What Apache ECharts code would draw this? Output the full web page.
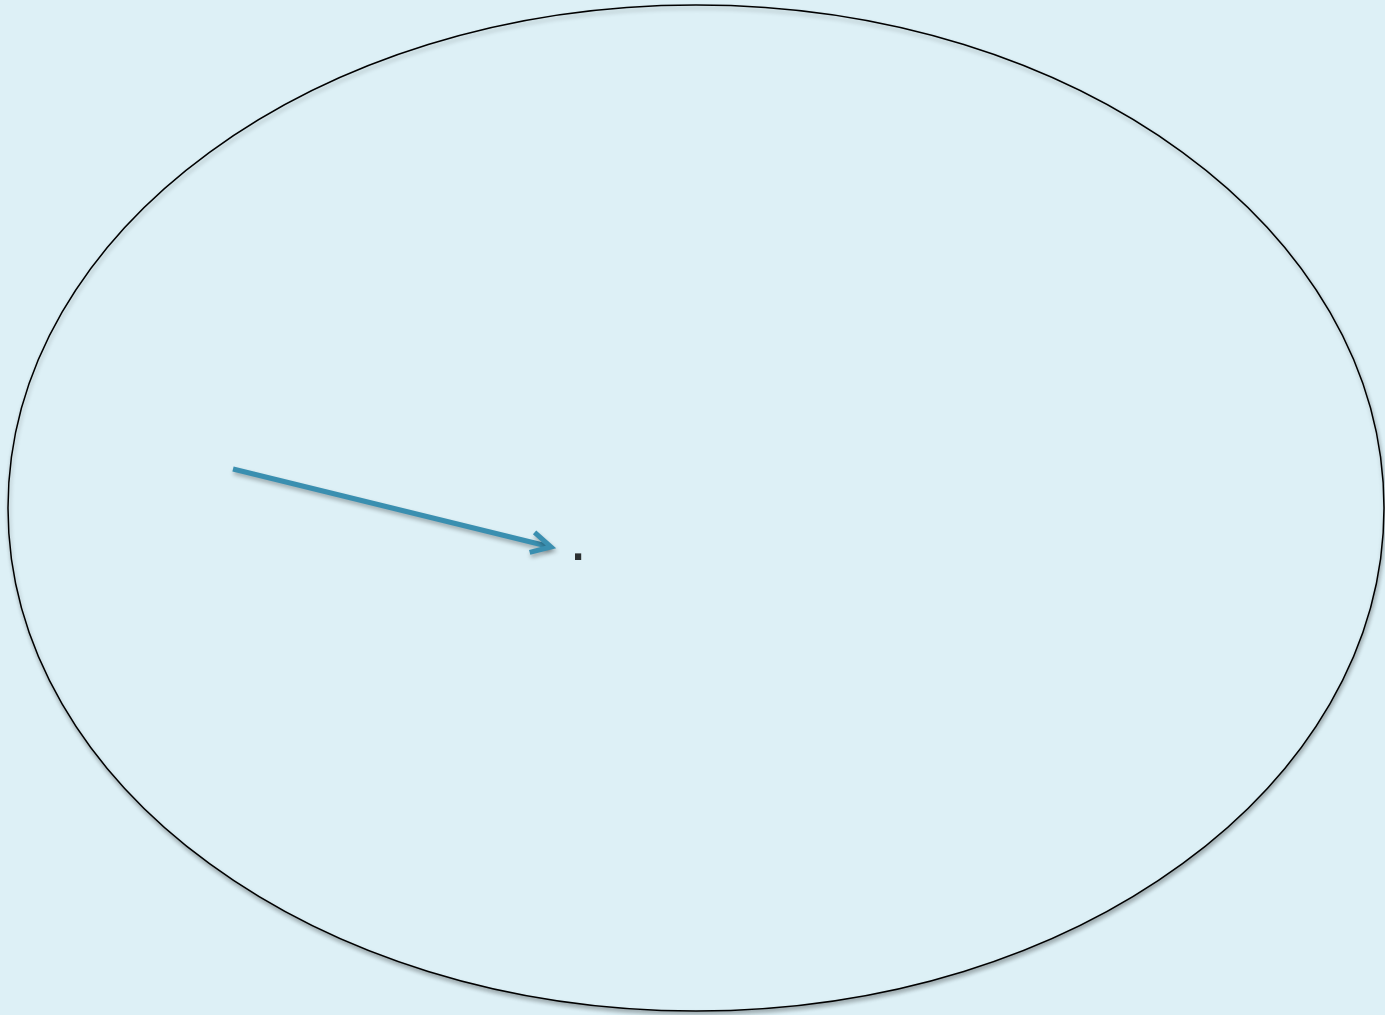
<!DOCTYPE html>
<html>
<head>
<meta charset="utf-8">
<script src="https://cdn.jsdelivr.net/npm/echarts@6/dist/echarts.min.js"></script>
<style>
html,body{margin:0;padding:0;background:#ddf0f6;}
#chart{width:1385px;height:1015px;}
</style>
</head>
<body>
<div id="chart"></div>
<script>
// Ellipse outline: centre and radii (in plot units)
var ellipseCenter = [696, 508];
var ellipseRadius = [688, 503];
// Arrow: start point and tip
var arrowStart = [233, 469];
var arrowEnd = [551, 547];
// Text mark
var labelPoint = [578, 552];
var labelText = '.';

var chart = echarts.init(document.getElementById('chart'), null, {renderer: 'canvas'});

var option = {
  backgroundColor: '#ddf0f6',
  animation: false,
  grid: {left: 0, right: 0, top: 0, bottom: 0},
  xAxis: {type: 'value', min: 0, max: 1385, show: false},
  yAxis: {type: 'value', min: 0, max: 1015, inverse: true, show: false},
  series: [
    {
      type: 'custom',
      silent: true,
      data: [[ellipseCenter[0], ellipseCenter[1], ellipseRadius[0], ellipseRadius[1]]],
      renderItem: function (params, api) {
        var c = api.coord([api.value(0), api.value(1)]);
        var o = api.coord([0, 0]);
        var r = api.coord([api.value(2), api.value(3)]);
        var rx = Math.abs(r[0] - o[0]), ry = Math.abs(r[1] - o[1]);
        return {
          type: 'ellipse',
          shape: {cx: c[0], cy: c[1], rx: rx, ry: ry},
          style: {
            fill: '#ddf0f6', stroke: '#000', lineWidth: 1.5,
            shadowColor: 'rgba(0,0,0,0.28)', shadowBlur: 4, shadowOffsetX: 1, shadowOffsetY: 3
          }
        };
      }
    },
    {
      type: 'custom',
      silent: true,
      data: [[arrowStart[0], arrowStart[1], arrowEnd[0], arrowEnd[1]]],
      renderItem: function (params, api) {
        var p0 = api.coord([api.value(0), api.value(1)]);
        var p1 = api.coord([api.value(2), api.value(3)]);
        var ang = Math.atan2(p1[1] - p0[1], p1[0] - p0[0]);
        var len = 22, spread = 28 * Math.PI / 180;
        var a1 = [p1[0] - len * Math.cos(ang - spread), p1[1] - len * Math.sin(ang - spread)];
        var a2 = [p1[0] - len * Math.cos(ang + spread), p1[1] - len * Math.sin(ang + spread)];
        var st = {
          stroke: '#3a8fb0', lineWidth: 5, fill: null, lineCap: 'butt', lineJoin: 'miter',
          shadowColor: 'rgba(0,0,0,0.3)', shadowBlur: 4, shadowOffsetX: 1, shadowOffsetY: 3
        };
        return {
          type: 'group',
          children: [
            {type: 'line', shape: {x1: p0[0], y1: p0[1], x2: p1[0] - 2 * Math.cos(ang), y2: p1[1] - 2 * Math.sin(ang)}, style: st},
            {type: 'polyline', shape: {points: [a1, p1, a2]}, style: st}
          ]
        };
      }
    },
    {
      type: 'scatter',
      silent: true,
      symbolSize: 0,
      data: [{value: labelPoint, name: labelText}],
      label: {
        show: true, position: 'inside', offset: [0, -4],
        formatter: function (p) { return p.name; },
        color: '#000', fontSize: 44, fontWeight: 'bold', fontFamily: 'Liberation Sans, Arial, sans-serif'
      }
    }
  ]
};
chart.setOption(option);
</script>
</body>
</html>
